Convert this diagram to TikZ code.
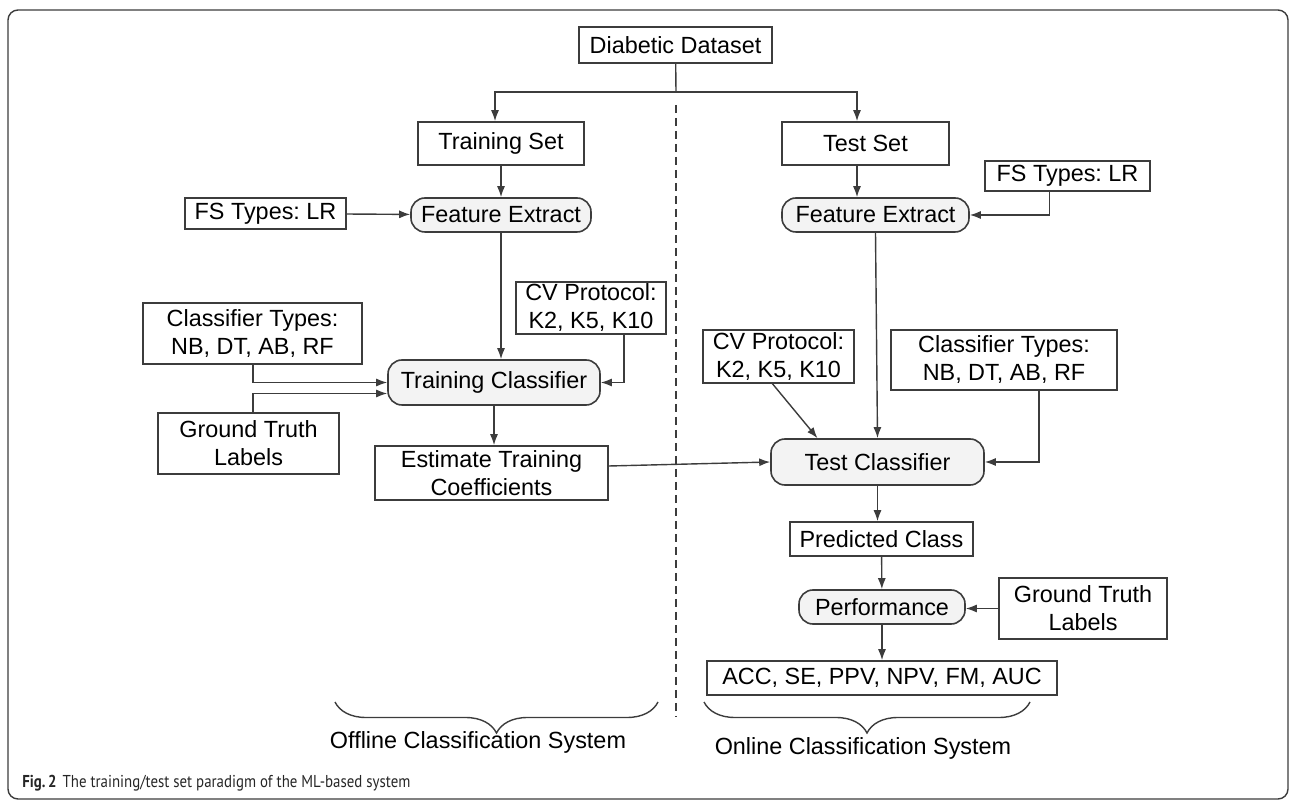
\documentclass[tikz,border=0pt]{standalone}
\usepackage{fontspec}
\setmainfont{Liberation Sans}
\newfontfamily\capfont{PT Sans}
\usepackage{graphicx}
\usepackage{tikz}
\usetikzlibrary{arrows.meta,decorations.pathreplacing}
\definecolor{linegray}{HTML}{3C3C3C}
\definecolor{boxfill}{HTML}{F3F3F3}
\frenchspacing

\begin{document}
\begin{tikzpicture}[x=0.5pt,y=-0.5pt,
	every node/.style={font=\fontsize{11.7}{14}\selectfont, align=center, inner sep=1pt, text=black},
	wh/.style 2 args={minimum width=#1, minimum height=#2},
	box/.style={draw=linegray, line width=0.8pt, fill=white},
	rbox/.style={draw=linegray, line width=0.8pt, fill=boxfill, rounded corners=7pt},
	conn/.style={draw=linegray, line width=0.7pt},
	>={Latex[length=5.5pt,width=4pt]}]
	\useasboundingbox (0,0) rectangle (1296,801);
	% outer frame
	\draw[linegray, line width=0.7pt, rounded corners=5pt] (8,10) rectangle (1288,799);

	% top
	\node[box, wh={96.5pt}{18pt}] (data) at (675.5,45) {Diabetic Dataset};
	\node[box, wh={83pt}{21.5pt}] (trainset) at (501,143.5) {Training Set};
	\node[box, wh={83.5pt}{21.5pt}] (testset) at (865.5,143.5) {Test Set};
	\coordinate (split) at (676,92);
	\draw[conn] (data) -- (split);
	\draw[conn,->] (split) -| ([xshift=-3pt]trainset.north);
	\draw[conn,->] (split) -| ([xshift=-4.25pt]testset.north);

	% offline side
	\node[rbox, wh={90pt}{17pt}] (fe1) at (501,215) {Feature Extract};
	\node[box, wh={80.5pt}{15.5pt}] (fs1) at (265.5,213.5) {FS Types: LR};
	\node[box, wh={75pt}{26pt}] (cv1) at (591,308) {CV Protocol:\\K2, K5, K10};
	\node[box, wh={109.5pt}{30.5pt}] (ct1) at (252.5,333.5) {Classifier Types:\\NB, DT, AB, RF};
	\node[rbox, wh={106pt}{22.5pt}] (tc1) at (494,382.5) {Training Classifier};
	\node[box, wh={90.5pt}{30.5pt}] (gt1) at (248.5,443.5) {Ground Truth\\Labels};
	\node[box, wh={116.5pt}{27pt}] (est) at (491.5,473) {Estimate Training\\Coefficients};

	\draw[conn,->] (trainset) -- (fe1);
	\draw[conn,->] (fs1) -- (fe1);
	\draw[conn,->] (fe1.south) -- (fe1.south |- tc1.north);
	\draw[conn,->] ([xshift=16.5pt]cv1.south) |- (tc1.east);
	\draw[conn,->] ([xshift=0.25pt]ct1.south) |- (tc1.west);
	\draw[conn,->] ([xshift=2.25pt]gt1.north) |- ([yshift=-5.5pt]tc1.west);
	\draw[conn,->] (tc1.south) -- (tc1.south |- est.north);

	% online side
	\node[rbox, wh={93.5pt}{17pt}] (fe2) at (875.5,215) {Feature Extract};
	\node[box, wh={82.5pt}{15pt}] (fs2) at (1067.5,176) {FS Types: LR};
	\node[box, wh={75.5pt}{26.5pt}] (cv2) at (778.5,356.5) {CV Protocol:\\K2, K5, K10};
	\node[box, wh={113pt}{30pt}] (ct2) at (1004,360) {Classifier Types:\\NB, DT, AB, RF};
	\node[rbox, wh={106.5pt}{23pt}] (tc2) at (877.5,462) {Test Classifier};
	\node[box, wh={91.5pt}{17pt}] (pred) at (881.5,539) {Predicted Class};
	\node[rbox, wh={83pt}{17pt}] (perf) at (882,607) {Performance};
	\node[box, wh={84pt}{30.5pt}] (gt2) at (1083,608.5) {Ground Truth\\Labels};
	\node[box, wh={175pt}{17pt}] (acc) at (882,678) {ACC, SE, PPV, NPV, FM, AUC};

	\draw[conn,->] ([xshift=-4.25pt]testset.south) -- ([xshift=-4.25pt]testset.south |- fe2.north);
	\draw[conn,->] ([xshift=-9pt]fs2.south) |- (fe2.east);
	\draw[conn,->] (fe2.south) -- (tc2.north);
	\draw[conn,->] ([xshift=-3pt]cv2.south) -- ([xshift=-30pt]tc2.north);
	\draw[conn,->] ([xshift=17.5pt]ct2.south) |- (tc2.east);
	\draw[conn,->] ([yshift=3.5pt]est.east) -- (tc2.west);
	\draw[conn,->] (tc2.south) -- (tc2.south |- pred.north);
	\draw[conn,->] (pred) -- (perf);
	\draw[conn,->] (gt2.west) -- (gt2.west -| perf.east);
	\draw[conn,->] (perf) -- (acc);

	% divider and braces
	\draw[linegray, line width=0.7pt, dash pattern=on 4pt off 2.5pt] (676,105) -- (676,717);
	\draw[conn, decorate, decoration={brace, mirror, amplitude=15.5pt}] (335,702) -- (658,702);
	\draw[conn, decorate, decoration={brace, mirror, amplitude=15.5pt}] (704,702) -- (1030,702);
	\node (offline) at (478,742) {Offline Classification System};
	\node (online) at (863,748) {Online Classification System};

	% caption
	\node[anchor=base west, inner sep=0pt, font=\capfont\fontsize{8.6}{10}\selectfont, text=black!85] (caption) at (22,787) {\resizebox{194pt}{\height}{\textbf{Fig.\,2}\hspace{3.5pt}The training/test set paradigm of the ML-based system}};
\end{tikzpicture}
\end{document}
